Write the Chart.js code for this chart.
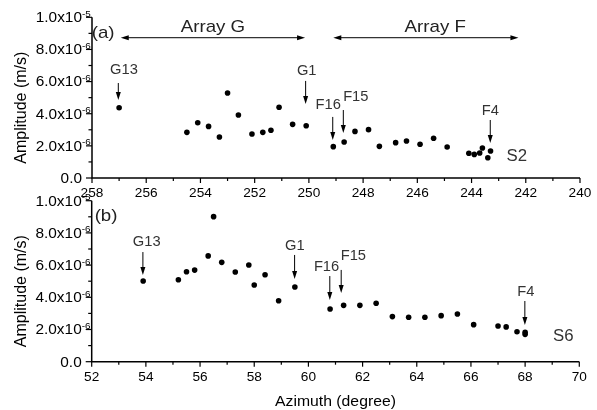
<!DOCTYPE html>
<html>
<head>
<meta charset="utf-8">
<script src="https://cdn.jsdelivr.net/npm/chart.js@4/dist/chart.umd.min.js"></script>
<style>
    html, body { margin: 0; padding: 0; background: #fff; }
    #wrap { position: relative; width: 597px; height: 410px; overflow: hidden; }
    #wrap canvas { position: absolute; left: 0; }
</style>
</head>
<body>
<div id="wrap">
    <canvas id="chartS2" width="597" height="205" style="top:0px"></canvas>
    <canvas id="chartS6" width="597" height="220" style="top:190px"></canvas>
</div>
<script>
// (a) station S2
const azimuthS2 = [257.0, 254.5, 254.1, 253.7, 253.3, 253.0, 252.6, 252.1, 251.7, 251.4, 251.1, 250.6, 250.1,
    249.1, 248.7, 248.3, 247.8, 247.4, 246.8, 246.4, 245.9, 245.4, 244.9, 244.1, 243.9, 243.7, 243.6, 243.4, 243.3];
const amplitudeS2 = [4.37e-6, 2.84e-6, 3.44e-6, 3.21e-6, 2.55e-6, 5.29e-6, 3.92e-6, 2.74e-6, 2.84e-6, 2.97e-6, 4.40e-6, 3.34e-6, 3.25e-6,
    1.95e-6, 2.24e-6, 2.90e-6, 3.01e-6, 1.97e-6, 2.20e-6, 2.30e-6, 2.10e-6, 2.47e-6, 1.93e-6, 1.54e-6, 1.47e-6, 1.56e-6, 1.87e-6, 1.26e-6, 1.68e-6];

// (b) station S6
const azimuthS6 = [53.9, 55.2, 55.5, 55.8, 56.3, 56.5, 56.8, 57.3, 57.8, 58.0, 58.4, 58.9, 59.5,
    60.8, 61.3, 61.9, 62.5, 63.1, 63.7, 64.3, 64.9, 65.5, 66.1, 67.0, 67.3, 67.7, 68.0, 68.0];
const amplitudeS6 = [5.01e-6, 5.09e-6, 5.59e-6, 5.69e-6, 6.57e-6, 9.01e-6, 6.17e-6, 5.57e-6, 6.01e-6, 4.76e-6, 5.40e-6, 3.79e-6, 4.64e-6,
    3.27e-6, 3.50e-6, 3.50e-6, 3.63e-6, 2.80e-6, 2.76e-6, 2.76e-6, 2.86e-6, 2.96e-6, 2.30e-6, 2.22e-6, 2.16e-6, 1.86e-6, 1.83e-6, 1.70e-6];

// tick labels
const yTicks = [0, 2e-6, 4e-6, 6e-6, 8e-6, 1e-5];
const xTicksS2 = [258, 256, 254, 252, 250, 248, 246, 244, 242, 240];
const xTicksS6 = [52, 54, 56, 58, 60, 62, 64, 66, 68, 70];

// arrowed sensors
const markNames = ['G13', 'G1', 'F16', 'F15', 'F4'];
const markS2 = {
    textX: [256.82, 250.08, 249.29, 248.27, 243.31],
    textY: [6.72e-6, 6.66e-6, 4.54e-6, 5.06e-6, 4.17e-6],
    arrowX: [257.03, 250.12, 249.12, 248.73, 243.31],
    arrowFrom: [5.91e-6, 6.04e-6, 3.80e-6, 4.23e-6, 3.61e-6],
    arrowTo: [4.85e-6, 4.60e-6, 2.36e-6, 2.80e-6, 2.18e-6]
};
const markS6 = {
    textX: [54.03, 59.50, 60.67, 61.66, 68.03],
    textY: [7.45e-6, 7.20e-6, 5.90e-6, 6.57e-6, 4.35e-6],
    arrowX: [53.89, 59.49, 60.79, 61.21, 67.99],
    arrowFrom: [6.81e-6, 6.63e-6, 5.32e-6, 5.70e-6, 3.77e-6],
    arrowTo: [5.39e-6, 5.14e-6, 3.83e-6, 4.27e-6, 2.28e-6]
};

// array spans (top panel)
const arrayNames = ['Array G', 'Array F'];
const arrayFrom = [256.94, 249.10];
const arrayTo = [250.14, 242.27];
const arrayTextX = [253.54, 245.34];

function drawText(ctx, s, x, y, font, align, sx, color) {
    ctx.save();
    ctx.translate(x, y);
    ctx.scale(sx || 1, 1);
    ctx.font = font;
    ctx.textAlign = align;
    ctx.textBaseline = 'middle';
    ctx.fillStyle = color || '#000';
    ctx.fillText(s, 0, 0);
    ctx.restore();
}

function line(ctx, x1, y1, x2, y2) {
    ctx.beginPath();
    ctx.moveTo(x1, y1);
    ctx.lineTo(x2, y2);
    ctx.stroke();
}

function head(ctx, x, y, dx, dy) {
    // filled arrow head with tip at (x, y), pointing along (dx, dy)
    const len = 8, half = 2.5;
    const px = -dy, py = dx;
    ctx.beginPath();
    ctx.moveTo(x, y);
    ctx.lineTo(x - dx * len + px * half, y - dy * len + py * half);
    ctx.lineTo(x - dx * len - px * half, y - dy * len - py * half);
    ctx.closePath();
    ctx.fill();
}

const panelAxes = {
    id: 'panelAxes',
    afterDraw(chart, args, opts) {
        const ctx = chart.ctx;
        const { left, right, top, bottom } = chart.chartArea;
        const xs = chart.scales.x, ys = chart.scales.y;
        ctx.save();
        ctx.strokeStyle = '#000';
        ctx.fillStyle = '#000';
        ctx.lineWidth = 1.5;
        ctx.beginPath();
        ctx.moveTo(left, top);
        ctx.lineTo(left, bottom);
        ctx.lineTo(right, bottom);
        ctx.stroke();

        ctx.lineWidth = 1.2;
        yTicks.forEach((v, i) => {
            const y = ys.getPixelForValue(v);
            line(ctx, left - 6, y, left, y);
            if (i < yTicks.length - 1) {
                const ym = ys.getPixelForValue((v + yTicks[i + 1]) / 2);
                line(ctx, left - 3.5, ym, left, ym);
            }
            if (v === 0) {
                drawText(ctx, '0.0', left - 10, y + 1, '14px "Liberation Sans", Arial', 'right', 1.1);
            } else {
                const e = Math.floor(Math.log10(v) + 1e-9);
                const m = (v / Math.pow(10, e)).toFixed(1);
                drawText(ctx, m + 'x10', left - 10, y + 1, '14px "Liberation Sans", Arial', 'right', 1.1);
                drawText(ctx, String(e), left - 10, y - 3, '9px "Liberation Sans", Arial', 'left', 1.1);
            }
        });

        const xt = opts.xTicks;
        xt.forEach((v, i) => {
            const x = xs.getPixelForValue(v);
            line(ctx, x, bottom, x, bottom + 5);
            if (i < xt.length - 1) {
                const xm = xs.getPixelForValue((v + xt[i + 1]) / 2);
                line(ctx, xm, bottom, xm, bottom + 3);
            }
            drawText(ctx, String(v), x, bottom + 15.5, '13px "Liberation Sans", Arial', 'center', 1.05);
        });

        ctx.save();
        ctx.translate(22, (top + bottom) / 2 + 10);
        ctx.rotate(-Math.PI / 2);
        drawText(ctx, 'Amplitude (m/s)', 0, 0, '16px "Liberation Sans", Arial', 'center', 1);
        ctx.restore();

        if (opts.xTitle) {
            drawText(ctx, opts.xTitle, (left + right) / 2, bottom + 40, '15px "Liberation Sans", Arial', 'center', 1.05);
        }

        // arrowed sensor labels
        const mk = opts.marks;
        ctx.lineWidth = 1;
        markNames.forEach((name, i) => {
            const ax = xs.getPixelForValue(mk.arrowX[i]);
            const y1 = ys.getPixelForValue(mk.arrowFrom[i]);
            const y2 = ys.getPixelForValue(mk.arrowTo[i]);
            line(ctx, ax, y1, ax, y2 - 4);
            head(ctx, ax, y2, 0, 1);
            drawText(ctx, name, xs.getPixelForValue(mk.textX[i]), ys.getPixelForValue(mk.textY[i]),
                '14px "Liberation Sans", Arial', 'center', 1.05, '#333');
        });

        drawText(ctx, opts.panel, xs.getPixelForValue(opts.panelAt[0]), ys.getPixelForValue(opts.panelAt[1]),
            '17px "Liberation Sans", Arial', 'center', 1.1, '#222');
        drawText(ctx, opts.station, xs.getPixelForValue(opts.stationAt[0]), ys.getPixelForValue(opts.stationAt[1]),
            '16px "Liberation Sans", Arial', 'center', 1.05, '#333');

        if (opts.arrays) {
            const ay = ys.getPixelForValue(8.73e-6);
            const ty = ys.getPixelForValue(9.37e-6);
            arrayNames.forEach((name, i) => {
                const x1 = xs.getPixelForValue(arrayFrom[i]);
                const x2 = xs.getPixelForValue(arrayTo[i]);
                line(ctx, x1 + 4, ay, x2 - 4, ay);
                head(ctx, x1, ay, -1, 0);
                head(ctx, x2, ay, 1, 0);
                drawText(ctx, name, xs.getPixelForValue(arrayTextX[i]), ty,
                    '17px "Liberation Sans", Arial', 'center', 1.1, '#222');
            });
        }
        ctx.restore();
    }
};

function makePanel(id, xs, ys, xMin, xMax, reverse, padding, extra) {
    return new Chart(document.getElementById(id), {
        type: 'scatter',
        data: {
            datasets: [{
                data: xs.map((x, i) => ({ x: x, y: ys[i] })),
                backgroundColor: '#000',
                borderWidth: 0,
                pointRadius: 2.8,
                pointHoverRadius: 2.8
            }]
        },
        options: {
            responsive: false,
            devicePixelRatio: 1,
            animation: false,
            layout: { padding: padding },
            scales: {
                x: { type: 'linear', display: false, min: xMin, max: xMax, reverse: reverse },
                y: { type: 'linear', display: false, min: 0, max: 1e-5 }
            },
            plugins: {
                legend: { display: false },
                tooltip: { enabled: false },
                panelAxes: extra
            }
        },
        plugins: [panelAxes]
    });
}

makePanel('chartS2', azimuthS2, amplitudeS2, 240, 258, true,
    { left: 92, right: 17, top: 17.3, bottom: 27 },
    { xTicks: xTicksS2, marks: markS2, panel: '(a)', panelAt: [257.59, 9.02e-6],
      station: 'S2', stationAt: [242.33, 1.31e-6], arrays: true });

makePanel('chartS6', azimuthS6, amplitudeS6, 52, 70, false,
    { left: 91.7, right: 17.7, top: 10.7, bottom: 48.3 },
    { xTicks: xTicksS6, marks: markS6, panel: '(b)', panelAt: [52.53, 9.0e-6],
      station: 'S6', stationAt: [69.41, 1.58e-6], xTitle: 'Azimuth (degree)' });
</script>
</body>
</html>
